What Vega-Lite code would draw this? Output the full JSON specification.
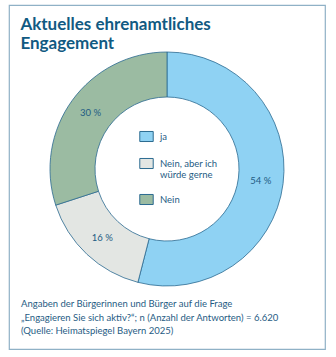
{
  "$schema": "https://vega.github.io/schema/vega-lite/v6.json",
  "padding": {"left": 8, "top": 4, "right": 12, "bottom": 9},
  "background": "white",
  "title": {
    "text": ["Aktuelles ehrenamtliches", "Engagement"],
    "anchor": "start",
    "orient": "top",
    "offset": -49,
    "dx": 12,
    "font": "Lato",
    "fontSize": 17,
    "fontWeight": "bold",
    "lineHeight": 19,
    "color": "#115a82"
  },
  "vconcat": [
    {
      "width": 316,
      "height": 344,
      "view": {"stroke": "#8fb1c6", "strokeWidth": 1.2, "fill": "white"},
      "title": {
        "text": [
          "Angaben der Bürgerinnen und Bürger auf die Frage",
          "„Engagieren Sie sich aktiv?“; n (Anzahl der Antworten) = 6.620",
          "(Quelle: Heimatspiegel Bayern 2025)"
        ],
        "orient": "bottom",
        "anchor": "start",
        "offset": -50,
        "dx": 12,
        "font": "Lato",
        "fontSize": 9.5,
        "fontWeight": "normal",
        "lineHeight": 13.5,
        "color": "#1f5c84"
      },
      "data": {
        "values": [
          {"kategorie": "ja", "anteil": 54, "label": "54 %", "ord": 1},
          {"kategorie": "Nein, aber ich würde gerne", "anteil": 16, "label": "16 %", "ord": 2},
          {"kategorie": "Nein", "anteil": 30, "label": "30 %", "ord": 3}
        ]
      },
      "encoding": {
        "theta": {"field": "anteil", "type": "quantitative", "stack": true},
        "order": {"field": "ord", "type": "quantitative"}
      },
      "layer": [
        {
          "mark": {
            "type": "arc",
            "outerRadius": 117,
            "innerRadius": 72,
            "stroke": "#2b6a90",
            "strokeWidth": 0.8,
            "yOffset": -8
          },
          "encoding": {
            "color": {
              "field": "kategorie",
              "type": "nominal",
              "scale": {
                "domain": ["ja", "Nein, aber ich würde gerne", "Nein"],
                "range": ["#8fd2f3", "#e3e6e3", "#9bbba2"]
              },
              "legend": {
                "orient": "none",
                "legendX": 130,
                "legendY": 124,
                "title": null,
                "symbolType": "M-1,-0.75H1V0.75H-1Z",
                "symbolSize": 180,
                "symbolStrokeColor": "#2b6a90",
                "symbolStrokeWidth": 1,
                "symbolOpacity": 1,
                "labelFont": "Lato",
                "labelFontSize": 9.5,
                "labelColor": "#1f5c84",
                "labelOffset": 6,
                "labelLineHeight": 12,
                "rowPadding": 12,
                "labelExpr": "datum.label == 'Nein, aber ich würde gerne' ? ['Nein, aber ich', 'würde gerne'] : datum.label"
              }
            }
          }
        },
        {
          "mark": {
            "type": "text",
            "radius": 94.5,
            "yOffset": -8,
            "font": "Lato",
            "fontSize": 9.5,
            "color": "#1f5c84"
          },
          "encoding": {
            "text": {"field": "label", "type": "nominal"}
          }
        }
      ]
    }
  ]
}
